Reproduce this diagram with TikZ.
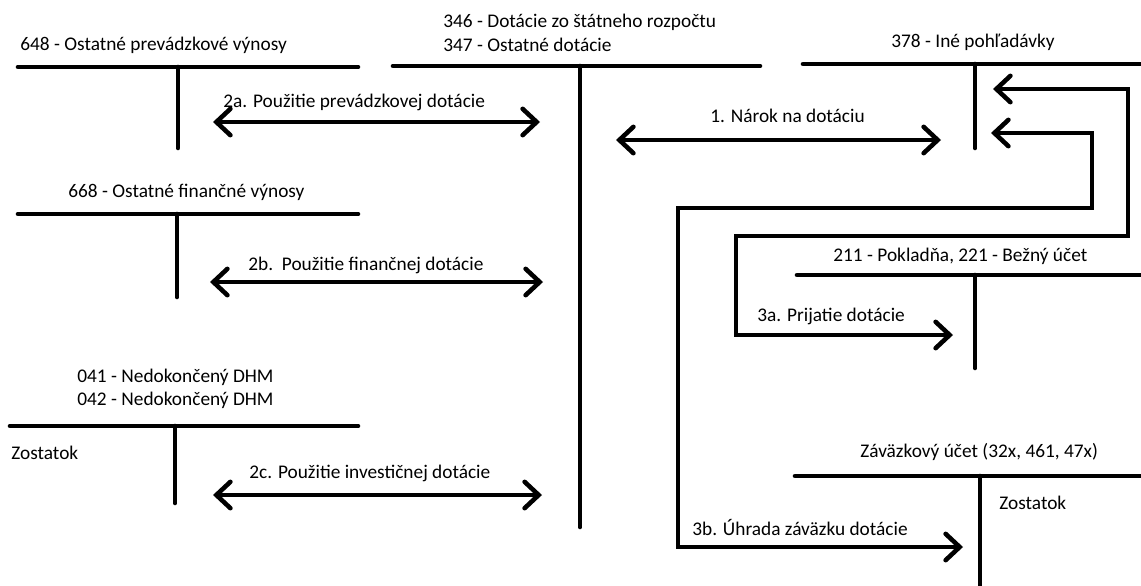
\documentclass[tikz,border=0pt]{standalone}
\usepackage{fontspec}
\setmainfont{Carlito}
\usetikzlibrary{arrows.meta}
\tikzset{
  tacc/.style={line width=2.6pt, line cap=round},
  flow/.style={line width=2.6pt, line cap=round, line join=miter},
  lbl/.style={anchor=west, inner sep=0pt, font=\fontsize{11}{13}\selectfont}
}
\begin{document}
\begin{tikzpicture}[x=0.02cm, y=-0.02cm, >={Straight Barb[length=8pt,width=15pt,line cap=round]}]
    \useasboundingbox (0,0) rectangle (1141,585);

    % 648
    \draw[tacc] (18,67) -- (358,67);
    \draw[tacc] (178,67) -- (178,148);
    \node[lbl] (l648) at (20,45) {648 - Ostatné prevádzkové výnosy};

    % 346, 347
    \draw[tacc] (393,66) -- (760,66);
    \draw[tacc] (580,66) -- (580,527);
    \node[lbl] (l346) at (443,22) {346 - Dotácie zo štátneho rozpočtu};
    \node[lbl] (l347) at (443,45) {347 - Ostatné dotácie};

    % 378
    \draw[tacc] (803,64) -- (1141,64);
    \draw[tacc] (975,64) -- (975,148);
    \node[lbl] (l378) at (891,42) {378 - Iné pohľadávky};

    % 668
    \draw[tacc] (18,214) -- (358,214);
    \draw[tacc] (177,214) -- (177,297);
    \node[lbl] (l668) at (68,192) {668 - Ostatné finančné výnosy};

    % 041, 042
    \draw[tacc] (10,426) -- (358,426);
    \draw[tacc] (175,426) -- (175,503);
    \node[lbl] (l041) at (77,377) {041 - Nedokončený DHM};
    \node[lbl] (l042) at (77,400) {042 - Nedokončený DHM};
    \node[lbl] (zos1) at (11,453) {Zostatok};

    % 211, 221
    \draw[tacc] (797,275) -- (1141,275);
    \draw[tacc] (975,275) -- (975,368);
    \node[lbl] (l211) at (833,256) {211 - Pokladňa, 221 - Bežný účet};

    % Zavazkovy ucet
    \draw[tacc] (795,476) -- (1141,476);
    \draw[tacc] (980,476) -- (980,585);
    \node[lbl] (lzav) at (860,452) {Záväzkový účet (32x, 461, 47x)};
    \node[lbl] (zos2) at (999,503) {Zostatok};

    % Arrows
    \coordinate (a1L) at (616,140);  \coordinate (a1R) at (941,140);
    \coordinate (a2aL) at (213,122); \coordinate (a2aR) at (540,122);
    \coordinate (a2bL) at (210,282); \coordinate (a2bR) at (543,282);
    \coordinate (a2cL) at (213,495); \coordinate (a2cR) at (542,495);
    \coordinate (a3a) at (993,89);   \coordinate (b3a) at (953,335);
    \coordinate (a3b) at (991,133);  \coordinate (b3b) at (963,547);

    \draw[flow, <->] (a1L) -- (a1R);
    \node[lbl] (t1) at (710,116) {1. Nárok na dotáciu};

    \draw[flow, <->] (a2aL) -- (a2aR);
    \node[lbl] (t2a) at (223,102) {2a. Použitie prevádzkovej dotácie};

    \draw[flow, <->] (a2bL) -- (a2bR);
    \node[lbl] (t2b) at (248,265) {2b.\ \ Použitie finančnej dotácie};

    \draw[flow, <->] (a2cL) -- (a2cR);
    \node[lbl] (t2c) at (249,473) {2c. Použitie investičnej dotácie};

    \draw[flow, <->] (a3a) -- (1128,89) -- (1128,236) -- (736,236) -- (736,335) -- (b3a);
    \node[lbl] (t3a) at (757,316) {3a. Prijatie dotácie};

    \draw[flow, <->] (a3b) -- (1092,133) -- (1092,208) -- (678,208) -- (678,547) -- (b3b);
    \node[lbl] (t3b) at (692,527) {3b. Úhrada záväzku dotácie};
\end{tikzpicture}
\end{document}
